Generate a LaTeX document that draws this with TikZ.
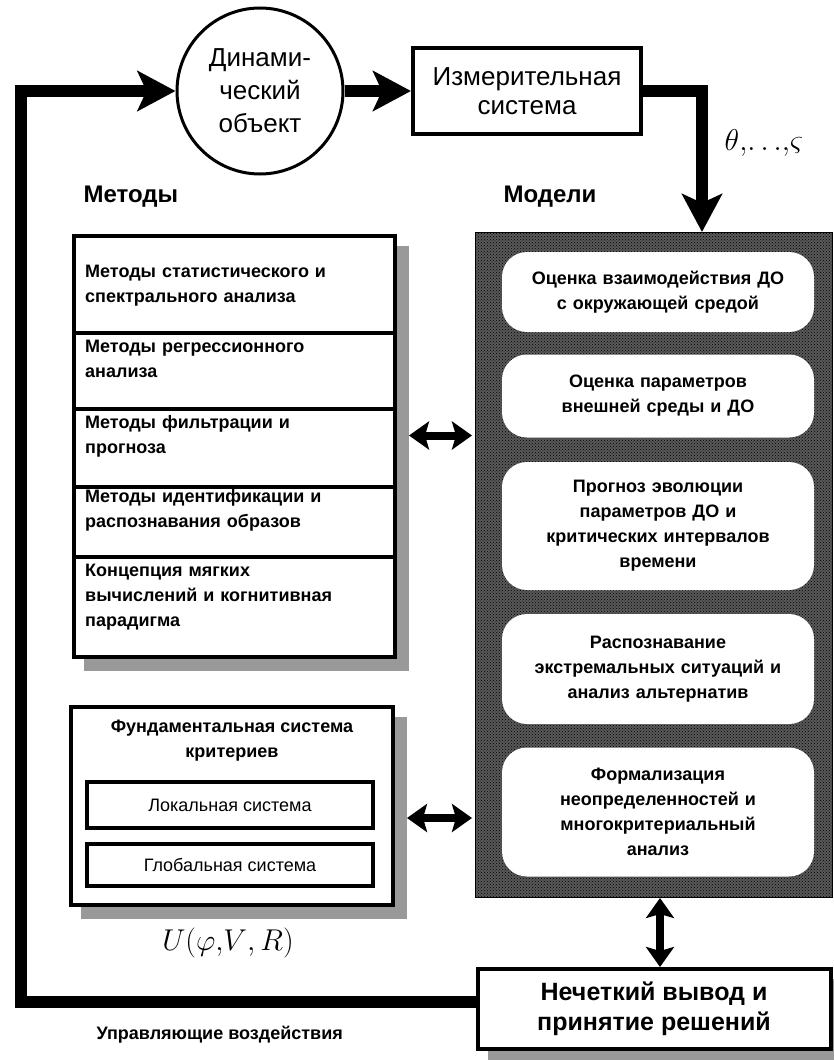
\documentclass[tikz,border=0pt]{standalone}
\usepackage{amsmath}
\usepackage[no-math]{fontspec}
\setmainfont{Liberation Sans}
\usetikzlibrary{arrows.meta,patterns,shadows,positioning}

\begin{document}
\begin{tikzpicture}[x=1pt,y=-1pt,
            thk/.style={line width=12pt,-{Stealth[length=38pt,width=40pt,inset=9pt]}},
            dbl/.style={line width=8pt,{Stealth[length=20pt,width=28pt,inset=4pt]}-{Stealth[length=20pt,width=28pt,inset=4pt]}},
            bx/.style={draw,line width=4pt},
            shd/.style={copy shadow={shadow xshift=12pt,shadow yshift=-12pt,fill=black!40,draw=black!40}},
            txt/.style={font=\fontsize{18}{25}\selectfont\bfseries},
            cell/.style={txt,anchor=north west,text width=300pt,align=left,inner sep=0pt},
            model/.style={txt,fill=white,rounded corners=25pt,minimum width=312pt,text width=290pt,align=center},
            frm/.style={scale=1.45,font=\fontsize{20.74}{24}\selectfont},
            pan/.style={draw,line width=1pt,preaction={fill=black!65},pattern=crosshatch dots,pattern color=black}]
            \useasboundingbox (0,0) rectangle (834,1060);

            % top part
            \node[circle,draw,line width=3pt,minimum size=166pt,align=center,
                  font=\fontsize{26}{33}\selectfont] (dyn) at (260,91) {Динами-\\ческий\\объект};
            \node[bx,minimum width=228pt,minimum height=86pt,align=center,
                  font=\fontsize{26}{29}\selectfont] (izm) at (527,91) {Измерительная\\система};
            \node[frm] (th) at (764,143) {$\theta{,}\!\ldots\!{,}\varsigma$};

            \node[anchor=west,font=\fontsize{24}{28}\selectfont\bfseries] (lmet) at (80,197) {Методы};
            \node[anchor=west,font=\fontsize{24}{28}\selectfont\bfseries] (lmod) at (500,197) {Модели};

            % methods
            \node[bx,fill=white,shd,anchor=north west,minimum width=321pt,minimum height=421pt] (met) at (72,234) {};
            \foreach \y in {333,409,487,557}
                \draw[bx] (met.west |- 0,\y) -- (met.east |- 0,\y);
            \node[cell] (m1) at (85,265) {Методы статистического и\\спектрального анализа};
            \node[cell] (m2) at (85,340) {Методы регрессионного\\анализа};
            \node[cell] (m3) at (85,415) {Методы фильтрации и\\прогноза};
            \node[cell] (m4) at (85,489) {Методы идентификации и\\распознавания образов};
            \node[cell] (m5) at (85,564) {Концепция мягких\\вычислений и когнитивная\\парадигма};

            % criteria
            \node[bx,fill=white,shd,minimum width=322pt,minimum height=198pt] (fund) at (232,806) {};
            \node[txt,align=center] (ft) at (232,741) {Фундаментальная система\\критериев};
            \node[bx,minimum width=286pt,minimum height=46pt,font=\fontsize{18}{22}\selectfont] (loc) at (230,805) {Локальная система};
            \node[bx,minimum width=286pt,minimum height=42pt,font=\fontsize{18}{22}\selectfont] (glob) at (230,865) {Глобальная система};
            \node[frm] (u) at (228,943) {$U(\varphi{,}V{,}\,R)$};

            % models
            \node[pan,anchor=north west,minimum width=357pt,minimum height=665pt] (mod) at (475,232) {};
            \node[model,minimum height=80pt] (o1) at (658,292) {Оценка взаимодействия ДО\\с окружающей средой};
            \node[model,minimum height=83pt] (o2) at (658,396) {Оценка параметров\\внешней среды и ДО};
            \node[model,minimum height=128pt] (o3) at (658,526) {Прогноз эволюции\\параметров ДО и\\критических интервалов\\времени};
            \node[model,minimum height=110pt] (o4) at (658,669) {Распознавание\\экстремальных ситуаций и\\анализ альтернатив};
            \node[model,minimum height=129pt] (o5) at (658,812) {Формализация\\неопределенностей и\\многокритериальный\\анализ};

            % decision
            \node[bx,fill=white,shd,minimum width=353pt,minimum height=80pt,align=center,
                  font=\fontsize{25}{30}\selectfont\bfseries] (dec) at (654,1009) {Нечеткий вывод и\\принятие решений};
            \node[txt,anchor=west] (uv) at (93,1035) {Управляющие воздействия};

            % connectors
            \coordinate (fb) at (21,91);
            \draw[thk] (dyn) -- (izm);
            \draw[thk] (izm.east) -| ([xshift=48pt]mod.north);
            \draw[thk] ([yshift=7pt]dec.west) -| (fb) -- (dyn.west);
            \draw[dbl,shorten <=12pt,shorten >=3pt] ([yshift=11pt]met.east) -- ([yshift=11pt]met.east -| mod.west);
            \draw[dbl,shorten <=12pt,shorten >=3pt] ([yshift=-12pt]fund.east) -- ([yshift=-12pt]fund.east -| mod.west);
            \draw[dbl] ([xshift=6pt]dec.north) -- ([xshift=6pt]dec.north |- mod.south);
\end{tikzpicture}
\end{document}
